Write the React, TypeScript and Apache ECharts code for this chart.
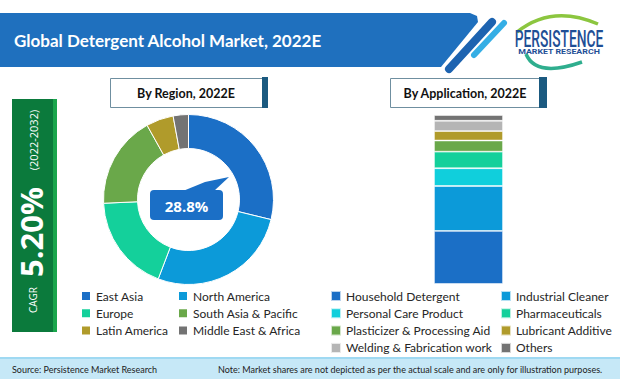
import React, { useEffect, useRef } from "react";
import * as echarts from "echarts";

const regionNames = ["East Asia", "North America", "Europe", "South Asia & Pacific", "Latin America", "Middle East & Africa"];
const regionValues = [28.8, 27.0, 18.5, 17.6, 5.2, 2.9];
const regionColors = ["#1b6fc6", "#0c9ad9", "#14d09b", "#6aa84a", "#b09b2b", "#737373"];

const appNames = [
  "Household Detergent", "Industrial Cleaner", "Personal Care Product", "Pharmaceuticals",
  "Plasticizer & Processing Aid", "Lubricant Additive", "Welding & Fabrication work", "Others",
];
const appValues = [31.4, 26.6, 10.5, 9.8, 6.6, 5.6, 6.1, 3.4];
const appColors = ["#1b6fc6", "#0c9ad9", "#10cfdc", "#14d09b", "#6aa84a", "#b09b2b", "#b5b5b5", "#737373"];

const title = "Global Detergent Alcohol Market, 2022E";
const cagrValue = "5.20%";
const cagrPeriod = "(2022-2032)";
const sourceText = "Source: Persistence Market Research";
const noteText = "Note: Market shares are not depicted as per the actual scale and are only for illustration purposes.";

const FONT = "Lato, 'Open Sans', sans-serif";

export default function App() {
  const ref = useRef<HTMLDivElement>(null);
  useEffect(() => {
    document.body.style.margin = "0";
    const chart = echarts.init(ref.current!, null, { renderer: "svg" });
    const legendText = { fontSize: 12, color: "#262626", fontFamily: FONT };
    const mkLegend = (left: number, names: string[], gap: number) => ({
      left, top: 290, orient: "vertical", icon: "rect", itemWidth: 10, itemHeight: 10,
      itemGap: gap, padding: 0, data: names, textStyle: legendText, selectedMode: false,
    });
    const option: any = {
      animation: false,
      backgroundColor: "#ffffff",
      legend: [
        mkLegend(80, [regionNames[0], regionNames[2], regionNames[4]], 5.3),
        mkLegend(177, [regionNames[1], regionNames[3], regionNames[5]], 5.3),
        mkLegend(330, [appNames[0], appNames[2], appNames[4], appNames[6]], 5.3),
        mkLegend(500, [appNames[1], appNames[3], appNames[5], appNames[7]], 5.3),
      ],
      grid: { left: 434, top: 115, width: 69, height: 169 },
      xAxis: { type: "category", data: ["2022E"], show: false },
      yAxis: { type: "value", min: 0, max: 100, show: false },
      series: [
        {
          type: "pie", radius: [51, 85], center: [188.5, 199.5], startAngle: 90, clockwise: true,
          label: { show: false }, labelLine: { show: false },
          itemStyle: { borderColor: "#ffffff", borderWidth: 1 },
          data: regionNames.map((n, i) => ({ name: n, value: regionValues[i], itemStyle: { color: regionColors[i] } })),
        },
        ...appNames.map((n, i) => ({
          type: "bar", name: n, stack: "app", barWidth: 69, data: [appValues[i]],
          itemStyle: { color: appColors[i], borderColor: "rgba(255,255,255,0.7)", borderWidth: 0.8 },
        })),
      ],
      graphic: [
        // header band
        { type: "polygon", shape: { points: [[0, 13], [470, 13], [477, 16], [478, 22], [441, 67], [0, 67]] }, style: { fill: "#1f70be" } },
        { type: "line", shape: { x1: 492, y1: 22, x2: 449, y2: 69 }, style: { stroke: "#1d63b0", lineWidth: 8, lineCap: "round" } },
        { type: "line", shape: { x1: 504, y1: 23, x2: 474, y2: 55 }, style: { stroke: "#35aee5", lineWidth: 6, lineCap: "round" } },
        { type: "text", x: 14, y: 40, style: { text: title, fill: "#ffffff", fontSize: 17, fontWeight: "bold", fontFamily: FONT, textAlign: "left", textVerticalAlign: "middle" } },
        // logo
        { type: "bezierCurve", shape: { x1: 517, y1: 32, cpx1: 552, cpy1: 4, x2: 598, y2: 24 }, style: { stroke: "#8cc63f", lineWidth: 3.5, fill: null } },
        { type: "bezierCurve", shape: { x1: 526, y1: 54, cpx1: 536, cpy1: 78, x2: 582, y2: 62 }, style: { stroke: "#2fae8e", lineWidth: 3.5, fill: null } },
        { type: "text", x: 559, y: 39, scaleX: 0.6, style: { text: "PERSISTENCE", fill: "#1f4f96", fontSize: 23, fontWeight: 500, fontFamily: "Roboto", textAlign: "center", textVerticalAlign: "middle" } },
        { type: "text", x: 559, y: 51, scaleX: 1.1, style: { text: "MARKET RESEARCH", fill: "#1f4f96", fontSize: 8, fontWeight: "bold", fontFamily: "Roboto", textAlign: "center", textVerticalAlign: "middle" } },
        // CAGR box
        { type: "rect", shape: { x: 12, y: 99, width: 41, height: 233 }, style: { fill: "#0b7a3c" } },
        { type: "rect", shape: { x: 53, y: 99, width: 4, height: 233 }, style: { fill: "#1aa64c" } },
        { type: "text", x: 33, y: 300, rotation: Math.PI / 2, style: { text: "CAGR", fill: "#ffffff", fontSize: 10, fontFamily: "'Open Sans'", textAlign: "center", textVerticalAlign: "middle" } },
        { type: "text", x: 31, y: 232, rotation: Math.PI / 2, style: { text: cagrValue, fill: "#ffffff", fontSize: 31, fontWeight: "bold", fontFamily: "'Open Sans'", textAlign: "center", textVerticalAlign: "middle" } },
        { type: "text", x: 33, y: 140, rotation: Math.PI / 2, style: { text: cagrPeriod, fill: "#ffffff", fontSize: 11, fontFamily: "'Open Sans'", textAlign: "center", textVerticalAlign: "middle" } },
        // section headers
        { type: "rect", shape: { x: 110.5, y: 78.5, width: 152, height: 29 }, style: { fill: "#ffffff", stroke: "#6f8fa0", lineWidth: 1 } },
        { type: "rect", shape: { x: 262, y: 77, width: 6, height: 31 }, style: { fill: "#1b5a80" } },
        { type: "text", x: 186, y: 93, style: { text: "By Region, 2022E", fill: "#111111", fontSize: 12.5, fontWeight: "bold", fontFamily: FONT, textAlign: "center", textVerticalAlign: "middle" } },
        { type: "rect", shape: { x: 390.5, y: 78.5, width: 149, height: 29 }, style: { fill: "#ffffff", stroke: "#6f8fa0", lineWidth: 1 } },
        { type: "rect", shape: { x: 539, y: 77, width: 8, height: 31 }, style: { fill: "#1b5a80" } },
        { type: "text", x: 465, y: 93, style: { text: "By Application, 2022E", fill: "#111111", fontSize: 12.5, fontWeight: "bold", fontFamily: FONT, textAlign: "center", textVerticalAlign: "middle" } },
        // callout
        { type: "polygon", shape: { points: [[183, 191], [205, 182], [229, 177], [214, 191]] }, style: { fill: "#1b6fc6" } },
        { type: "rect", shape: { x: 150, y: 190, width: 73, height: 30, r: 4 }, style: { fill: "#1b6fc6" } },
        { type: "text", x: 186.5, y: 205.5, style: { text: `${regionValues[0]}%`, fill: "#ffffff", fontSize: 15, fontWeight: "bold", fontFamily: "'Open Sans'", textAlign: "center", textVerticalAlign: "middle" } },
        // footer
        { type: "rect", shape: { x: 0, y: 358, width: 620, height: 21 }, style: { fill: "#c6e8f7" } },
        { type: "rect", shape: { x: 0, y: 357, width: 620, height: 2 }, style: { fill: "#9fd9f2" } },
        { type: "text", x: 12, y: 369, style: { text: sourceText, fill: "#222222", fontSize: 9, fontFamily: FONT, textAlign: "left", textVerticalAlign: "middle" } },
        { type: "text", x: 218, y: 369, style: { text: noteText, fill: "#222222", fontSize: 9, fontFamily: FONT, textAlign: "left", textVerticalAlign: "middle" } },
      ],
    };
    chart.setOption(option);
    return () => chart.dispose();
  }, []);
  return <div ref={ref} style={{ width: 620, height: 379 }} />;
}
